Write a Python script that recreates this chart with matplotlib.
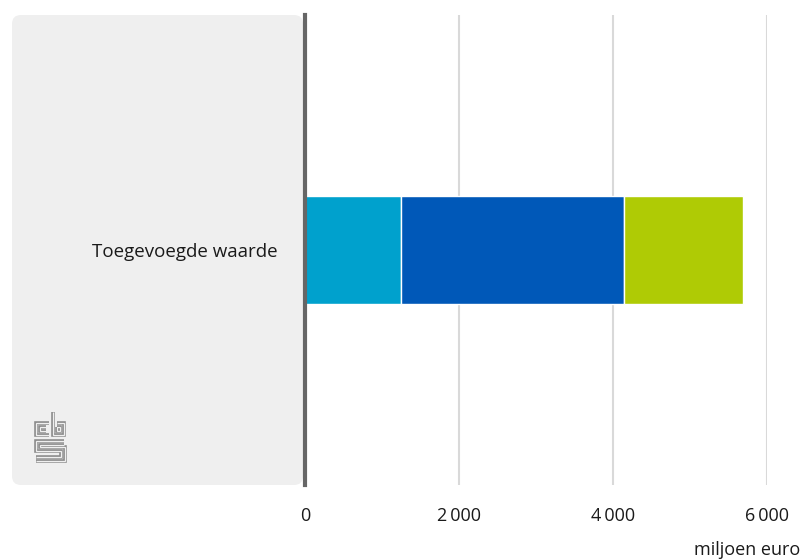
import matplotlib.pyplot as plt
from matplotlib.patches import FancyBboxPatch

# data
categories = ["Toegevoegde waarde"]
seg1 = [1250]
seg2 = [2890]
seg3 = [1550]
colors = ["#00a1cd", "#0058b8", "#afcb05"]
xticks = [0, 2000, 4000, 6000]
xticklabels = ["0", "2\u2009000", "4\u2009000", "6\u2009000"]
unit = "miljoen euro"

plt.rcParams['font.family'] = ['Open Sans', 'DejaVu Sans']

W, H = 802, 560
fig = plt.figure(figsize=(W / 100, H / 100), dpi=100)

# overlay in pixel coords for panel and logo
bg = fig.add_axes([0, 0, 1, 1])
bg.set_xlim(0, W)
bg.set_ylim(H, 0)
bg.axis('off')
panel = FancyBboxPatch((12, 15), 291, 470, boxstyle="round,pad=0,rounding_size=9",
                       facecolor="#efefef", edgecolor="none")
bg.add_patch(panel)

# cbs logo (rough)
logo = [
    [(49, 423), (36, 423), (36, 435), (49, 435)],
    [(46, 427), (40, 427), (40, 431), (46, 431)],
    [(53, 412), (53, 435), (64, 435), (64, 423), (57, 423)],
    [(57, 427), (60, 427), (60, 431), (57, 431), (57, 427)],
    [(64, 441), (36, 441), (36, 451), (61, 451), (61, 457), (36, 457)],
    [(64, 445), (40, 445), (40, 447), (65, 447), (65, 461), (36, 461)],
]
for path in logo:
    xs, ys = zip(*path)
    bg.plot(xs, ys, color="#8c8c8c", lw=2.6, solid_capstyle='butt', solid_joinstyle='miter')
    bg.plot(xs, ys, color="#efefef", lw=0.9, solid_capstyle='butt', solid_joinstyle='miter')

ax = fig.add_axes([305 / W, 1 - 485 / H, 462 / W, 470 / H])
ax.patch.set_alpha(0)
y = range(len(categories))
left = [0] * len(categories)
for vals, c in zip([seg1, seg2, seg3], colors):
    ax.barh(y, vals, left=left, height=0.228, color=c, edgecolor="white", linewidth=1, zorder=3)
    left = [l + v for l, v in zip(left, vals)]

ax.set_xlim(0, 6000)
ax.set_ylim(-0.5, 0.5)
ax.set_xticks(xticks)
ax.set_xticklabels(xticklabels, fontsize=13, color="#1a1a1a")
ax.set_yticks(list(y))
ax.set_yticklabels(categories, fontsize=13.5, color="#1a1a1a")
ax.tick_params(axis='both', length=0)
ax.tick_params(axis='x', pad=16)
ax.tick_params(axis='y', pad=20)
ax.grid(axis='x', color="#d9d9d9", lw=1.5, zorder=0)
for s in ax.spines.values():
    s.set_visible(False)
ax.axvline(0, color="#666666", lw=3, zorder=5, clip_on=False)

fig.text(800 / W, 1 - 550 / H, unit, ha='right', va='center', fontsize=13, color="#1a1a1a")

fig.savefig("out.png", dpi=100)
